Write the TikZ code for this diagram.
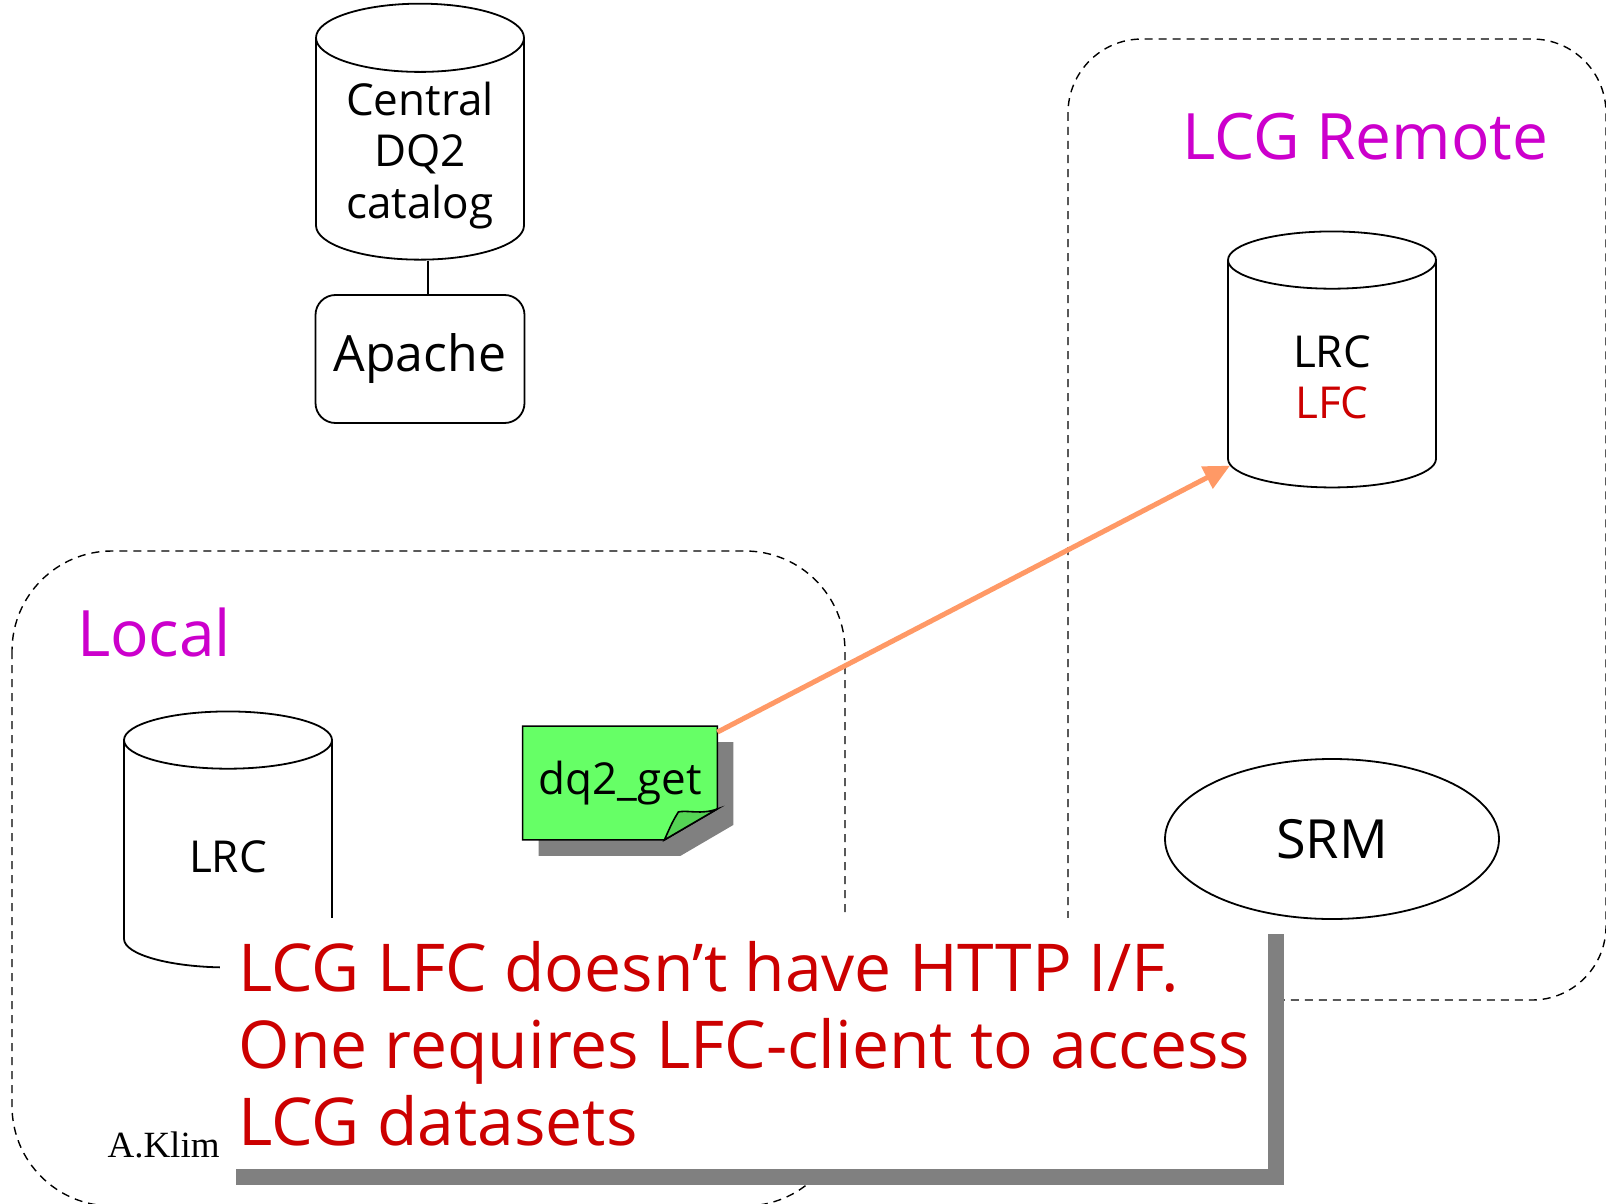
\documentclass[tikz,border=0pt]{standalone}
\usepackage{fontspec}
\setmainfont{Open Sans}
\newfontfamily\creditfont{Liberation Serif}
\usepackage{tikz}
\usetikzlibrary{shapes.geometric, arrows.meta, positioning, shadows}
\definecolor{zonemag}{HTML}{CC00CC}
\definecolor{alertred}{HTML}{CC0000}
\definecolor{notegreen}{HTML}{66FF66}
\definecolor{flapgreen}{HTML}{55D455}
\definecolor{linkorange}{HTML}{FF9966}
\pgfdeclarelayer{back}
\pgfsetlayers{back,main}
\tikzset{
    zone/.style={draw=black, dashed, dash pattern=on 4pt off 3pt, line width=0.7pt, rounded corners=50pt},
    zonelabel/.style={text=zonemag, anchor=base west, font=\fontsize{32}{38}\selectfont},
    db/.style={cylinder, shape border rotate=90, aspect=0.7, draw=black, fill=white, line width=0.9pt, minimum width=104pt, minimum height=128pt, inner sep=1pt, align=center, font=\fontsize{22}{25.6}\selectfont},
    service/.style={rectangle, rounded corners=10pt, draw=black, fill=white, line width=0.9pt, minimum width=104.5pt, minimum height=64pt, font=\fontsize{25}{30}\selectfont},
    manager/.style={ellipse, draw=black, line width=0.9pt, minimum width=167pt, minimum height=80pt, font=\fontsize{27}{32}\selectfont},
    notebox/.style={minimum width=97pt, minimum height=56.5pt, font=\fontsize{22}{26}\selectfont},
    remark/.style={anchor=north west, fill=white, text=alertred, align=left, inner xsep=9pt, inner ysep=0pt, minimum width=524pt, minimum height=125.5pt, font=\fontsize{33}{38.5}\selectfont, drop shadow={shadow xshift=8pt, shadow yshift=-8pt, fill=black!50, opacity=1}},
    link/.style={draw=linkorange, line width=2.5pt, -{Triangle[length=13pt,width=12pt]}}
}

\begin{document}
\begin{tikzpicture}[x=0.5pt, y=-0.5pt]
    \useasboundingbox (0,0) rectangle (1606,1204);

    % site boxes
    \draw[zone] (12,551) rectangle (845,1206);
    \draw[zone, rounded corners=37pt] (1068,39) rectangle (1606,1000);
    \node[zonelabel] (loclabel) at (70,656) {Local};
    \node[zonelabel] (remlabel) at (1175,159) {LCG Remote};

    % central catalog
    \node[db, aspect=0.45] (central) at (420,152.5) {\raisebox{-11.75pt}[42pt][0pt]{\begin{tabular}[b]{@{}c@{}}Central\\DQ2\\catalog\end{tabular}}};
    \node[service] (apache) at (420,359) {Apache};
    \draw[line width=1pt] ([xshift=4pt]central.south) -- ([xshift=4pt]apache.north);

    % remote site
    \node[db] (lfc) at (1332,377) {LRC\\\textcolor{alertred}{LFC}};
    \node[manager] (srm) at (1332,839) {SRM};

    % local site
    \node[db] (lrc) at (228,857) {LRC};
    \node[anchor=base east, inner sep=0pt, font=\creditfont\fontsize{18.5}{22}\selectfont] (author) at (220,1157) {A.Klim};

    \node[notebox] (get) at (620,783) {dq2\_get};
    \begin{pgfonlayer}{back}
        \fill[black!50] ([shift={(16,16)}]get.north west) -- ([shift={(16,16)}]get.north east)
            -- ([shift={(16,-15)}]get.south east) -- ([shift={(-37,16)}]get.south east)
            -- ([shift={(16,16)}]get.south west) -- cycle;
        \filldraw[fill=notegreen, draw=black, line width=0.8pt] (get.north west) -- (get.north east)
            -- ([yshift=15.5pt]get.south east) -- ([xshift=-26.5pt]get.south east)
            -- (get.south west) -- cycle;
        \filldraw[fill=flapgreen, draw=black, line width=0.8pt] ([yshift=15.5pt]get.south east)
            .. controls +(-16,6) and +(10,-2) .. ([shift={(-39,-28)}]get.south east)
            .. controls +(-6,10) .. ([xshift=-26.5pt]get.south east) -- cycle;
    \end{pgfonlayer}

    \draw[link] ([yshift=-3pt]get.north east) -- (lfc.221);

    % remark
    \node[remark] (issue) at (220,918) {LCG LFC doesn’t have HTTP I/F.\\One requires LFC-client to access\\LCG datasets};
\end{tikzpicture}
\end{document}
